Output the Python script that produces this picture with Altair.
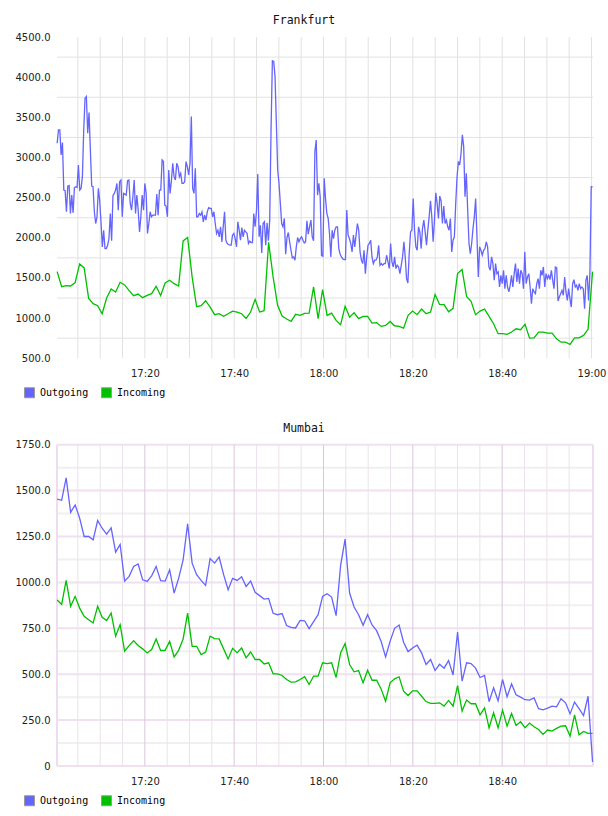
import altair as alt
import pandas as pd

# ---- data -------------------------------------------------------------
DAY = "2024-01-01"

SERIES = ["Outgoing", "Incoming"]
COLORS = ["#6464ff", "#00c000"]

# Frankfurt, outgoing traffic (sampled roughly every 18 s)
fra_out_first_hour = [
    3177, 3343, 3343, 3031, 3185, 2594, 2586, 2324, 2644, 2652, 2303, 2532, 2311, 2623, 2636, 2628,
    2906, 2594, 2615, 2761, 3343, 3738, 3759, 3301, 3559, 3093, 2644, 2636, 2324, 2178, 2261, 2615,
    2469, 2199, 1887, 2095, 1866, 1866, 1908, 1991, 2303, 1963, 2524, 2553, 2594, 2677, 2345, 2698,
    2719, 2261, 2553, 2544, 2532, 2711, 2719, 2428, 2345, 2511, 2719, 2303, 2532, 2345, 2074, 2261,
    2532, 2345, 2677, 2553, 2054, 2178, 2324, 2261, 2282, 2282, 2282, 2544, 2282, 2594, 2594, 2969,
    2949, 2407, 2395, 2261, 2844, 2553, 2711, 2928, 2761, 2719, 2928, 2886, 2761, 2803, 2677, 2677,
    2698, 2949, 2886, 2782, 2928, 3510, 2615, 2553, 2865, 2261, 2261, 2303, 2282, 2324, 2199, 2282,
    2220, 2324, 2374, 2366, 2366, 2261, 2324, 2178, 2054, 2095, 2012, 2137, 1950, 2137, 2324, 1970,
    1929, 1916, 1908, 1908, 2033, 2054, 1991, 1887, 2199, 2095, 1970, 2128, 2012, 2095, 2074, 2054,
    1929, 1958, 1941, 1941, 2303, 2137, 2324, 2794, 2012, 2157, 1812, 2178, 2199, 1908, 2186, 1963,
    2220, 3343, 4204, 4196, 4009, 3426, 2844, 2677, 2428, 2178, 2137, 2241, 1796, 2004, 2066, 1950,
    1845, 1750, 1762, 1721, 1887, 2004, 1950, 1991, 2012, 1970, 1937, 1950, 2211, 2046, 2137, 2220,
    2012, 1963, 3073, 3218, 2532, 2677, 2511, 1779, 1771, 2740,
]
fra_out_second_hour = [
    2490, 2303, 2241, 2054, 1762, 2095, 1991, 2095, 2137, 2137, 1866, 1796, 1762, 1737, 1729, 1729,
    2345, 2033, 1991, 1929, 1825, 2033, 1887, 2033, 2178, 2095, 1825, 1721, 1679, 1845, 1554, 1762,
    1908, 1929, 1970, 1762, 1679, 1721, 1721, 1762, 1908, 1658, 1679, 1658, 1679, 1679, 1783, 1700,
    1617, 1929, 1700, 1637, 1762, 1617, 1658, 1637, 1554, 1658, 1762, 1950, 1762, 1492, 1438, 1804,
    2074, 2095, 2490, 2095, 1887, 1845, 2137, 2074, 1866, 2116, 2220, 2074, 1908, 2095, 2261, 2461,
    2261, 1950, 2220, 2561, 2428, 2241, 2519, 2461, 2178, 2395, 2178, 2220, 2137, 2095, 2241, 1825,
    1970, 2012, 2428, 2761, 2949, 2907, 3052, 3281, 3135, 2511, 2803, 2345, 1929, 1804, 1929, 2116,
    2261, 2490, 2012, 1512, 1887, 1845, 1783, 1845, 1866, 1950, 1887, 1637, 1596, 1762, 1679, 1471,
    1679, 1554, 1575, 1388, 1533, 1429, 1596, 1367, 1533, 1388, 1326, 1409, 1533, 1388, 1554, 1679,
    1450, 1617, 1429, 1596, 1554, 1367, 1825, 1429, 1512, 1554, 1388, 1180, 1367, 1326, 1305, 1429,
    1492, 1367, 1596, 1533, 1637, 1388, 1554, 1492, 1533, 1479, 1596, 1471, 1367, 1637, 1629, 1213,
    1263, 1305, 1346, 1284, 1512, 1326, 1221, 1367, 1242, 1138, 1429, 1479, 1388, 1409, 1346, 1429,
    1367, 1388, 1367, 1117, 1471, 1533, 1221, 1554, 2636, 2636,
]

# Frankfurt, incoming traffic (one sample per minute)
fra_in = [
    1579, 1392, 1404, 1400, 1442, 1675, 1625, 1246, 1180, 1155, 1055, 1250, 1363, 1325, 1446, 1413,
    1342, 1280, 1300, 1255, 1284, 1305, 1396, 1280, 1438, 1471, 1429, 1400, 1962, 2004, 1513, 1142,
    1155, 1217, 1138, 1043, 1055, 1022, 1055, 1088, 1076, 1055, 997, 1076, 1234, 1076, 1092, 1945,
    1513, 1159, 1026, 989, 959, 1047, 1034, 1059, 1063, 1388, 993, 1355,
    1034, 1063, 972, 918, 1147, 1013, 1067, 993, 1022, 1022, 939, 943, 897, 910, 959, 905,
    897, 876, 1034, 1088, 1043, 1113, 1055, 1076, 1296, 1171, 1167, 1080, 1122, 1554, 1604, 1271,
    1209, 1043, 1088, 1113, 1022, 931, 806, 806, 797, 827, 868, 856, 922, 751, 755, 827,
    827, 814, 814, 743, 701, 701, 672, 755, 755, 785, 860, 1579,
]

# Mumbai, outgoing traffic (one sample per minute)
mum_out = [
    1453, 1447, 1569, 1382, 1422, 1350, 1250, 1250, 1232, 1337, 1295, 1263, 1297, 1165, 1207, 1007,
    1033, 1087, 1100, 1014, 1005, 1036, 1087, 1009, 1007, 1069, 942, 1022, 1123, 1319, 1105, 1042,
    1011, 984, 1130, 1105, 1138, 1042, 960, 1022, 1011, 1031, 978, 1007, 946, 928, 909, 913,
    832, 824, 830, 765, 755, 752, 793, 791, 748, 786, 824, 924,
    938, 920, 819, 1091, 1236, 942, 866, 824, 766, 824, 768, 737, 679, 594, 679, 750,
    768, 674, 623, 643, 658, 616, 553, 580, 520, 554, 533, 574, 496, 730, 462, 562,
    558, 533, 482, 493, 350, 426, 355, 471, 377, 447, 388, 375, 361, 359, 371, 312,
    306, 315, 326, 322, 366, 344, 284, 348, 312, 275, 380, 22,
]

# Mumbai, incoming traffic (one sample per minute)
mum_in = [
    904, 880, 1011, 870, 924, 860, 815, 797, 779, 870, 810, 792, 833, 707, 770, 625,
    656, 683, 656, 638, 616, 634, 692, 629, 630, 679, 594, 630, 692, 833, 652, 652,
    607, 620, 707, 694, 692, 638, 583, 641, 616, 643, 589, 621, 580, 580, 556, 562,
    502, 502, 493, 471, 457, 458, 471, 487, 444, 489, 489, 562,
    558, 562, 482, 616, 667, 553, 513, 520, 453, 522, 467, 467, 420, 353, 453, 475,
    486, 408, 384, 409, 409, 380, 351, 341, 341, 344, 326, 357, 326, 438, 299, 359,
    339, 339, 279, 317, 208, 290, 208, 304, 217, 286, 221, 241, 208, 234, 214, 199,
    172, 196, 190, 205, 217, 219, 163, 279, 170, 188, 178, 178,
]

FRA_TICKS = [500, 1000, 1500, 2000, 2500, 3000, 3500, 4000, 4500]
FRA_GRID = [750, 1250, 1750, 2250, 2750, 3250, 3750, 4250]
MUM_TICKS = [0, 250, 500, 750, 1000, 1250, 1500, 1750]
MUM_MINOR = [125, 375, 625, 875, 1125, 1375, 1625]


# ---- helpers ----------------------------------------------------------
def clock(h, m, s=0):
    return alt.DateTime(year=2024, month=1, date=1, hours=h, minutes=m, seconds=s)


def stamps(n):
    return pd.date_range(f"{DAY} 17:00:22", f"{DAY} 19:00:14", periods=n)


def traffic(out_vals, in_vals):
    a = pd.DataFrame({"t": stamps(len(out_vals)), "v": out_vals, "series": "Outgoing"})
    b = pd.DataFrame({"t": stamps(len(in_vals)), "v": in_vals, "series": "Incoming"})
    return pd.concat([a, b], ignore_index=True)


def every_five(first, last):
    return pd.DataFrame({"t": pd.date_range(f"{DAY} {first}", f"{DAY} {last}", freq="5min")})


LABEL_FONT = "DejaVu Sans"
x_scale = alt.Scale(domain=[clock(17, 0, 20), clock(19, 0, 20)])
fra_y = alt.Scale(domain=[500, 4500], range=[321.3, 0], nice=False, zero=False)
mum_y = alt.Scale(domain=[0, 1750], range=[729, 407.7], nice=False, zero=False)


def color_scale():
    return alt.Scale(domain=SERIES, range=COLORS)


def y_axis(values, **kw):
    return alt.Axis(values=values, orient="left", grid=False, ticks=False, domain=False,
                    labelPadding=7, labelFont=LABEL_FONT, labelFontSize=10,
                    labelColor="#222222", title=None, **kw)


def x_axis(values, offset):
    return alt.Axis(values=values, orient="bottom", offset=offset, format="%H:%M", grid=False,
                    ticks=False, domain=False, labelPadding=10, labelFlush=False,
                    labelOverlap=False, labelFont=LABEL_FONT, labelFontSize=10,
                    labelColor="#222222", title=None)


def legend(y):
    return alt.Legend(orient="none", legendX=-33, legendY=y, direction="horizontal", title=None,
                      symbolType="square", symbolSize=100, symbolStrokeColor="#999999",
                      symbolStrokeWidth=1, symbolOpacity=1, labelFont="DejaVu Sans Mono",
                      labelFontSize=10, labelColor="#000000", labelOffset=5, columnPadding=10,
                      padding=0)


def title_text(name, y):
    return alt.Chart(pd.DataFrame({"name": [name]})).mark_text(
        font="DejaVu Sans Mono", fontSize=11.5, color="#111111"
    ).encode(text="name:N", x=alt.value(247), y=alt.value(y))


def hgrid(values, y_scale, color, width):
    return alt.Chart(pd.DataFrame({"v": values})).mark_rule(
        color=color, strokeWidth=width
    ).encode(y=alt.Y("v:Q", scale=y_scale, axis=None))


def vgrid(frame, y_scale, lo, hi, **mark):
    return alt.Chart(frame).mark_rule(**mark).encode(
        x=alt.X("t:T", scale=x_scale, axis=None),
        y=alt.YDatum(lo, scale=y_scale, axis=None),
        y2=alt.Y2Datum(hi),
    )


def lines(frame, y_scale, x_ax, y_ax):
    return alt.Chart(frame).mark_line(strokeWidth=1.3).encode(
        x=alt.X("t:T", scale=x_scale, axis=x_ax),
        y=alt.Y("v:Q", scale=y_scale, axis=y_ax),
        color=alt.Color("series:N", scale=color_scale(), legend=None),
        detail="series:N",
    )


def key(y):
    return alt.Chart(pd.DataFrame({"series": SERIES})).mark_square(
        filled=True, opacity=0
    ).encode(color=alt.Color("series:N", scale=color_scale(), legend=legend(y)))


# ---- Frankfurt panel ---------------------------------------------------
frankfurt = [
    hgrid(FRA_GRID, fra_y, "#e2e2e2", 1),
    vgrid(every_five("17:05", "19:00"), fra_y, 500, 4500, color="#e2e2e2", strokeWidth=1),
    lines(
        traffic(fra_out_first_hour + fra_out_second_hour, fra_in), fra_y,
        x_axis([clock(17, 20), clock(17, 40), clock(18, 0), clock(18, 20),
                clock(18, 40), clock(19, 0)], -407.7),
        y_axis(FRA_TICKS, format=".1f"),
    ),
    key(350),
    title_text("Frankfurt", -16.3),
]

# ---- Mumbai panel ------------------------------------------------------
mum_five = every_five("17:05", "18:55")
mum_twenty = mum_five[mum_five["t"].dt.minute % 20 == 0]
mum_other = mum_five[mum_five["t"].dt.minute % 20 != 0]
mum_edges = pd.DataFrame({"t": pd.to_datetime([f"{DAY} 17:00:20", f"{DAY} 19:00:20"])})

mumbai = [
    hgrid(MUM_MINOR, mum_y, "#f1eff1", 2),
    hgrid(MUM_TICKS, mum_y, "#f0e0f0", 2),
    vgrid(mum_other, mum_y, 0, 1750, color="#ebe3eb", strokeWidth=1),
    vgrid(mum_twenty, mum_y, 0, 1750, color="#dcc6dc", strokeWidth=1),
    vgrid(mum_edges, mum_y, 0, 1750, color="#f0dcf0", strokeWidth=2),
    lines(
        traffic(mum_out, mum_in), mum_y,
        x_axis([clock(17, 20), clock(17, 40), clock(18, 0), clock(18, 20), clock(18, 40)], 0),
        y_axis(MUM_TICKS, labelExpr="datum.value == 0 ? '0' : format(datum.value, '.1f')"),
    ),
    key(758),
    title_text("Mumbai", 392),
]

# ---- page ---------------------------------------------------------------
chart = (
    alt.layer(*frankfurt, *mumbai)
    .resolve_scale(y="independent", color="independent")
    .resolve_axis(x="independent", y="independent")
    .resolve_legend(color="independent")
    .properties(
        width=536,
        height=729,
        padding={"left": 57, "top": 37, "right": 15, "bottom": 50},
        autosize=alt.AutoSizeParams(type="none"),
        background="#ffffff",
    )
    .configure_view(strokeWidth=0)
)

chart.save("out.html", embed_options={"renderer": "svg", "actions": False})
